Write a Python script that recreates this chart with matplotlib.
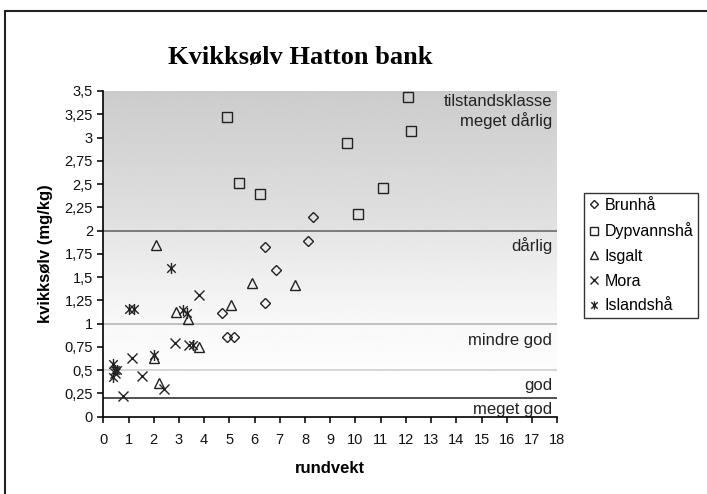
import numpy as np
import matplotlib
matplotlib.use('Agg')
import matplotlib.pyplot as plt
from matplotlib.path import Path
from matplotlib.patches import Rectangle
from matplotlib.ticker import FuncFormatter, MultipleLocator

# data
brunha_x = [8.3, 8.1, 6.4, 6.85, 6.4, 4.7, 4.9, 5.2]
brunha_y = [2.15, 1.89, 1.82, 1.58, 1.22, 1.11, 0.86, 0.855]

dypvann_x = [4.9, 5.4, 6.2, 9.65, 10.1, 11.1, 12.1, 12.2]
dypvann_y = [3.22, 2.51, 2.39, 2.94, 2.18, 2.46, 3.44, 3.07]

isgalt_x = [2.1, 5.9, 7.6, 5.05, 2.9, 3.35, 3.8, 2.0, 2.2]
isgalt_y = [1.84, 1.44, 1.42, 1.2, 1.12, 1.05, 0.75, 0.63, 0.36]

mora_x = [3.8, 2.85, 3.4, 1.15, 1.55, 2.4, 0.8, 0.45]
mora_y = [1.31, 0.79, 0.775, 0.635, 0.44, 0.3, 0.22, 0.47]

island_x = [2.7, 1.0, 1.2, 3.15, 3.3, 3.55, 2.0, 0.4, 0.45, 0.55, 0.4]
island_y = [1.6, 1.16, 1.16, 1.15, 1.11, 0.77, 0.66, 0.57, 0.5, 0.5, 0.43]

# tilstandsklasser: grenser og tekster
grenser = [2.0, 1.0, 0.5, 0.2]
klasse_tekst = ['tilstandsklasse\nmeget dårlig', 'dårlig', 'mindre god', 'god', 'meget god']
klasse_y = [3.28, 1.84, 0.815, 0.33, 0.08]

plt.rcParams['font.family'] = ['Liberation Sans', 'DejaVu Sans']

fig = plt.figure(figsize=(7.07, 4.94), dpi=100)
ax = fig.add_axes([0.1461, 0.1565, 0.642, 0.6593])
ax.set_xlim(0, 18)
ax.set_ylim(0, 3.5)

# bakgrunn med gradient
def band(y0, y1, c0, c1):
    g = np.linspace(c0, c1, 200).reshape(-1, 1)
    ax.imshow(g, extent=[0, 18, y0, y1], origin='lower', cmap='gray',
              vmin=0, vmax=1, aspect='auto', zorder=0, interpolation='bilinear')

band(2.0, 3.5, 0.885, 0.80)
band(1.0, 2.0, 0.975, 0.90)
band(0.5, 1.0, 0.99, 0.975)

line_col = ['#6a6a6a', '#b8b8b8', '#cfcfcf', '#333333']
for g, c in zip(grenser, line_col):
    ax.axhline(g, color=c, lw=1.2, zorder=1)

for t, yy in zip(klasse_tekst, klasse_y):
    ax.text(17.8, yy, t, ha='right', va='center', fontsize=12,
            color='#222222', linespacing=1.2, zorder=2)

star = Path([(-1, -1), (1, 1), (-1, 1), (1, -1), (0, -1.3), (0, 1.3)],
            [Path.MOVETO, Path.LINETO, Path.MOVETO, Path.LINETO,
             Path.MOVETO, Path.LINETO])

kw = dict(linestyle='none', markerfacecolor='none', markeredgecolor='#222222',
          markeredgewidth=1.0, zorder=3)
ax.plot(brunha_x, brunha_y, marker='D', markersize=5.5, label='Brunhå', **kw)
ax.plot(dypvann_x, dypvann_y, marker='s', markersize=7, label='Dypvannshå', **kw)
ax.plot(isgalt_x, isgalt_y, marker='^', markersize=7, label='Isgalt', **kw)
ax.plot(mora_x, mora_y, marker='x', markersize=7.5, label='Mora', **kw)
ax.plot(island_x, island_y, marker=star, markersize=8, label='Islandshå', **kw)

for s in ['top', 'right']:
    ax.spines[s].set_visible(False)
ax.spines['left'].set_linewidth(1.2)
ax.spines['bottom'].set_linewidth(1.2)

ax.xaxis.set_major_locator(MultipleLocator(1))
ax.yaxis.set_major_locator(MultipleLocator(0.25))
ax.yaxis.set_major_formatter(FuncFormatter(lambda v, p: f'{v:g}'.replace('.', ',')))
ax.tick_params(direction='out', length=4, width=1.2, labelsize=10.5, colors='#111111')
ax.tick_params(axis='x', pad=8)

ax.set_xlabel('rundvekt', fontsize=12, fontweight='bold', labelpad=10)
ax.set_ylabel('kvikksølv (mg/kg)', fontsize=12, fontweight='bold', labelpad=8)

fig.text(0.424, 0.883, 'Kvikksølv Hatton bank', ha='center', va='center',
         fontsize=19, fontweight='bold', family='Liberation Serif')

leg = fig.legend(loc='upper left', bbox_to_anchor=(0.826, 0.609),
                 bbox_transform=fig.transFigure, fontsize=11.5, frameon=True,
                 fancybox=False, handlelength=0.7, handletextpad=0.3,
                 labelspacing=0.6, borderpad=0.3, borderaxespad=0,
                 markerscale=0.75)
leg.get_frame().set_edgecolor('black')
leg.get_frame().set_linewidth(1.0)

fig.patches.append(Rectangle((0.0075, -0.1), 1.2, 0.978 + 0.1,
                             transform=fig.transFigure, fill=False,
                             edgecolor='#222222', lw=1.5))

fig.savefig('out.png', dpi=100)
